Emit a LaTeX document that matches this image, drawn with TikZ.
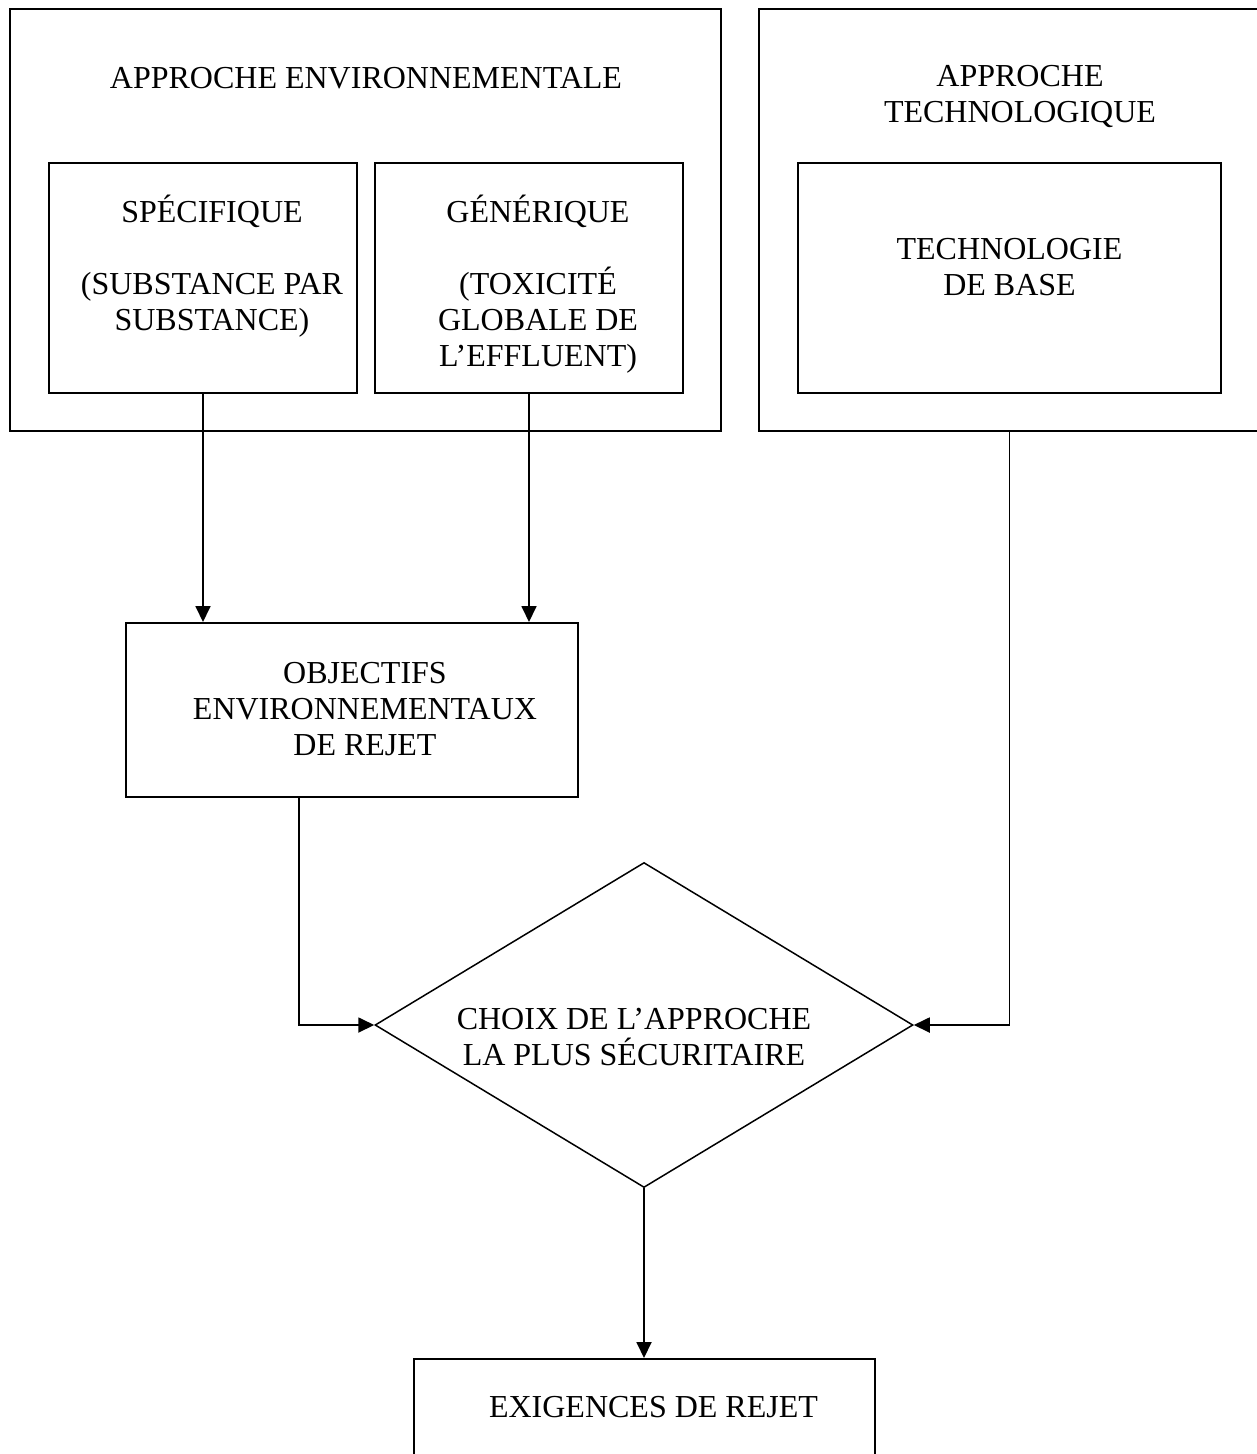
\documentclass[tikz,border=0pt]{standalone}
\usepackage{fontspec}
\setmainfont{Liberation Serif}
\usetikzlibrary{shapes.geometric,arrows.meta}
\begin{document}
\begin{tikzpicture}[x=1pt,y=-1pt,
  box/.style={draw,line width=2pt,rectangle,inner sep=0pt},
  txt/.style={align=center,font=\fontsize{32}{36}\selectfont,inner sep=0pt},
  arr/.style={line width=1.8pt,-{Triangle[length=16pt,width=15pt]}},
  decision/.style={draw,diamond,line width=1.5pt,inner sep=0pt}]
\useasboundingbox (0,0) rectangle (1257,1454);
\clip (0,0) rectangle (1257,1454);
% outer boxes
\node[box,minimum width=711pt,minimum height=422pt] (envOuter) at (365.5,220) {};
\node[box,minimum width=531pt,minimum height=422pt] (techOuter) at (1024.5,220) {};
% inner boxes
\node[box,minimum width=308pt,minimum height=230pt] (spec) at (203,278) {};
\node[box,minimum width=308pt,minimum height=230pt] (gen) at (529,278) {};
\node[box,minimum width=423pt,minimum height=230pt] (base) at (1009.5,278) {};
\node[box,minimum width=452pt,minimum height=174pt] (obj) at (352,710) {};
\node[decision,minimum width=538pt,minimum height=325pt] (choice) at (644,1025) {};
\node[box,minimum width=461pt,minimum height=161pt] (exig) at (644.5,1439.5) {};
% texts
\node[txt] (envT) at (366,78) {APPROCHE ENVIRONNEMENTALE};
\node[txt] (techT) at (1020,96) {APPROCHE\\TECHNOLOGIQUE};
\node[txt] (specT) at (212,266.5) {SPÉCIFIQUE\\[36pt](SUBSTANCE PAR\\SUBSTANCE)};
\node[txt] (genT) at (538,284) {GÉNÉRIQUE\\[36pt](TOXICITÉ\\GLOBALE DE\\L’EFFLUENT)};
\node[txt] (baseT) at (1009.5,267.5) {TECHNOLOGIE\\DE BASE};
\node[txt] (objT) at (365,709) {OBJECTIFS\\ENVIRONNEMENTAUX\\DE REJET};
\node[txt] (choiceT) at (634,1037) {CHOIX DE L’APPROCHE\\LA PLUS SÉCURITAIRE};
\node[txt] (exigT) at (653.5,1407) {EXIGENCES DE REJET};
% connectors
\draw[arr] (spec.south) -- (spec.south |- obj.north);
\draw[arr] (gen.south) -- (gen.south |- obj.north);
\draw[arr] ([xshift=-53pt]obj.south) |- (choice.west);
\draw[arr] (base.south |- techOuter.south) |- (choice.east);
\draw[arr] (choice.south) -- (choice.south |- exig.north);
\end{tikzpicture}
\end{document}
